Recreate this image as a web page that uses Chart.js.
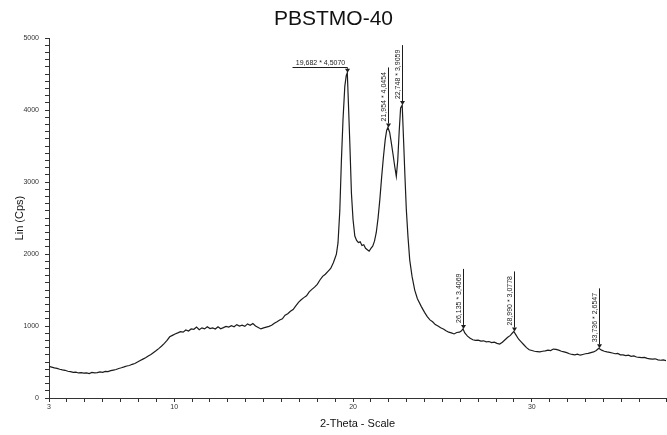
<!DOCTYPE html>
<html>
<head>
<meta charset="utf-8">
<script src="https://cdn.jsdelivr.net/npm/chart.js@4/dist/chart.umd.min.js"></script>
<style>
html,body{margin:0;padding:0;background:#fff;}
#wrap{width:667px;height:435px;}
</style>
</head>
<body>
<div id="wrap"><canvas id="c" width="667" height="435"></canvas></div>
<script>
const chartTitle = 'PBSTMO-40';
const xTitle = '2-Theta - Scale';
const yTitle = 'Lin (Cps)';
const xLabelTicks = [3, 10, 20, 30];
const yLabelTicks = [0, 1000, 2000, 3000, 4000, 5000];

const twoTheta = [
3.0,3.15,3.3,3.45,3.6,3.75,3.9,4.05,4.2,4.35,4.5,4.65,4.8,4.95,5.1,5.25,5.4,5.55,5.7,5.85,
6.0,6.15,6.3,6.45,6.6,6.75,6.9,7.05,7.2,7.35,7.5,7.65,7.8,7.95,8.1,8.25,8.4,8.55,8.7,8.85,
9.0,9.15,9.3,9.45,9.6,9.75,9.9,10.05,10.2,10.35,10.5,10.65,10.8,10.95,11.1,11.25,11.4,11.55,11.7,11.85,
12.0,12.15,12.3,12.45,12.6,12.75,12.9,13.05,13.2,13.35,13.5,13.65,13.8,13.95,14.1,14.25,14.4,14.55,14.7,14.85,
15.0,15.15,15.3,15.45,15.6,15.75,15.9,16.05,16.2,16.35,16.5,16.65,16.8,16.95,17.1,17.25,17.4,17.55,17.7,17.85,
18.0,18.15,18.3,18.45,18.6,18.75,18.9,19.0,19.07,19.16,19.26,19.35,19.44,19.54,19.62,19.68,19.72,19.82,19.91,20.0,
20.1,20.2,20.3,20.4,20.5,20.6,20.7,20.8,20.9,21.0,21.1,21.2,21.3,21.4,21.5,21.6,21.7,21.8,21.88,21.95,
22.05,22.14,22.24,22.33,22.42,22.5,22.58,22.66,22.75,22.83,22.9,22.98,23.07,23.17,23.3,23.45,23.6,23.82,24.0,24.15,
24.3,24.45,24.6,24.75,24.9,25.05,25.2,25.35,25.5,25.65,25.8,25.95,26.05,26.15,26.25,26.4,26.55,26.7,26.85,27.0,
27.15,27.3,27.45,27.6,27.75,27.9,28.05,28.2,28.35,28.5,28.65,28.8,28.9,28.99,29.1,29.25,29.4,29.55,29.7,29.85,
30.0,30.15,30.3,30.45,30.6,30.75,30.9,31.05,31.2,31.35,31.5,31.65,31.8,31.95,32.1,32.25,32.4,32.55,32.7,32.85,
33.0,33.15,33.3,33.45,33.6,33.74,33.9,34.05,34.2,34.35,34.5,34.65,34.8,34.95,35.1,35.25,35.4,35.55,35.7,35.85,
36.0,36.15,36.3,36.45,36.6,36.75,36.9,37.05,37.2,37.35,37.5
];
const counts = [
440,430,418,412,400,392,385,372,366,356,360,348,352,345,350,340,355,348,352,362,
356,370,366,380,388,396,410,420,432,445,452,468,480,500,520,540,560,585,605,632,
660,690,722,760,800,850,870,890,905,922,915,945,930,960,955,985,950,975,960,990,
965,975,958,990,962,978,995,985,1005,990,1020,1000,1012,995,1030,1010,1035,1000,980,960,
975,985,995,1010,1040,1060,1085,1100,1150,1170,1205,1230,1280,1330,1365,1395,1420,1475,1510,1540,
1580,1640,1690,1720,1760,1800,1880,1950,2000,2155,2600,3300,3870,4330,4480,4520,4250,3550,2850,2480,
2250,2190,2160,2170,2120,2130,2080,2060,2040,2080,2110,2180,2300,2500,2760,3070,3350,3590,3720,3760,
3690,3550,3380,3220,3080,3300,3700,4030,4070,3560,3100,2620,2250,1920,1690,1500,1380,1270,1190,1130,
1085,1060,1020,1000,975,960,935,915,905,890,910,915,930,960,905,860,830,810,800,805,
790,795,780,785,770,775,760,750,775,810,845,870,900,925,880,820,780,740,700,670,
660,650,645,640,650,655,665,660,680,675,665,650,640,630,615,605,600,610,595,605,
615,620,630,640,660,690,665,650,640,635,625,615,620,600,600,590,595,580,585,570,
565,560,565,550,545,540,545,530,525,530,520
];

const peakAngles = [19.682, 21.954, 22.748, 26.135, 28.990, 33.736];
const peakDSpacing = ['4,5070', '4,0454', '3,9059', '3,4069', '3,0778', '2,6547'];
const peakCounts = [4520, 3760, 4070, 960, 925, 690];

const points = twoTheta.map((t, i) => ({x: t, y: counts[i]}));
const FONT = "'Liberation Sans', Arial, sans-serif";
const INK = '#1c1c1c';

const peakPlugin = {
  id: 'peaks',
  afterDatasetsDraw(chart) {
    const {ctx, scales: {x, y}} = chart;
    ctx.save();
    ctx.strokeStyle = INK;
    ctx.fillStyle = INK;
    ctx.lineWidth = 1;
    ctx.font = '7px ' + FONT;
    peakAngles.forEach((a, i) => {
      const px = Math.round(x.getPixelForValue(a)) + 0.5;
      const py = y.getPixelForValue(peakCounts[i]);
      const label = a.toFixed(3).replace('.', ',') + ' * ' + peakDSpacing[i];
      ctx.beginPath();
      ctx.moveTo(px - 2.5, py - 4);
      ctx.lineTo(px + 2.5, py - 4);
      ctx.lineTo(px, py);
      ctx.closePath();
      ctx.fill();
      if (i === 0) {
        const ly = Math.round(py - 6) + 0.5;
        ctx.beginPath();
        ctx.moveTo(px, py - 4);
        ctx.lineTo(px, ly);
        ctx.lineTo(px - 55, ly);
        ctx.stroke();
        ctx.textAlign = 'center';
        ctx.textBaseline = 'bottom';
        ctx.fillText(label, px - 27, ly - 1);
      } else {
        ctx.beginPath();
        ctx.moveTo(px, py - 4);
        ctx.lineTo(px, py - 60);
        ctx.stroke();
        ctx.save();
        ctx.translate(px - 1, py - 6);
        ctx.rotate(-Math.PI / 2);
        ctx.textAlign = 'left';
        ctx.textBaseline = 'bottom';
        ctx.fillText(label, 0, 0);
        ctx.restore();
      }
    });
    ctx.restore();
  }
};

new Chart(document.getElementById('c'), {
  type: 'line',
  data: {
    datasets: [{
      data: points,
      borderColor: INK,
      borderWidth: 1.2,
      pointRadius: 0,
      tension: 0,
      fill: false
    }]
  },
  options: {
    responsive: false,
    animation: false,
    devicePixelRatio: 1,
    layout: {padding: {top: 0, left: 0, right: 0, bottom: 0}},
    plugins: {
      legend: {display: false},
      tooltip: {enabled: false},
      title: {
        display: true,
        text: chartTitle,
        color: '#111',
        font: {family: FONT, size: 21, weight: 'normal'},
        padding: {top: 7, bottom: 6}
      }
    },
    scales: {
      x: {
        type: 'linear',
        min: 3,
        max: 37.5,
        ticks: {
          stepSize: 1,
          autoSkip: false,
          maxRotation: 0,
          color: '#333',
          font: {family: FONT, size: 7},
          padding: 1,
          callback: v => xLabelTicks.includes(v) ? String(v) : ''
        },
        grid: {drawOnChartArea: false, drawTicks: true, tickLength: 4, color: '#333'},
        border: {color: '#333', width: 1},
        title: {
          display: true,
          text: xTitle,
          color: '#111',
          font: {family: FONT, size: 11},
          padding: {top: 0, bottom: 4}
        },
        afterFit: s => { s.height = 37; }
      },
      y: {
        min: 0,
        max: 5000,
        ticks: {
          stepSize: 100,
          autoSkip: false,
          maxTicksLimit: 1000,
          color: '#333',
          font: {family: FONT, size: 7},
          padding: 6,
          callback: v => yLabelTicks.includes(v) ? String(v) : ''
        },
        grid: {drawOnChartArea: false, drawTicks: true, tickLength: 4, color: '#333'},
        border: {color: '#333', width: 1},
        title: {
          display: true,
          text: yTitle,
          color: '#111',
          font: {family: FONT, size: 11},
          padding: {top: 13, bottom: 0}
        },
        afterFit: s => { s.width = 49; }
      }
    }
  },
  plugins: [peakPlugin]
});
</script>
</body>
</html>
